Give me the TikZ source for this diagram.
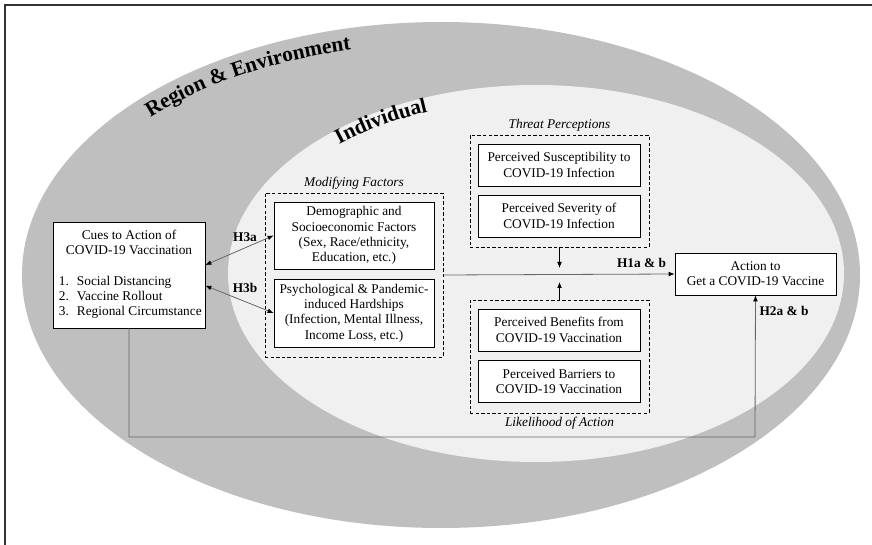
\documentclass[tikz,border=0pt]{standalone}
\usepackage{fontspec}
\setmainfont{Liberation Serif}
\usetikzlibrary{positioning,arrows.meta,decorations.text}

\begin{document}
\begin{tikzpicture}[x=0.75pt,y=-0.75pt,
            box/.style={draw, fill=white, line width=0.6pt, align=center, inner sep=0pt,
              font=\fontsize{10}{11.5}\selectfont},
            group/.style={draw, line width=0.6pt, dash pattern=on 2.6pt off 1.6pt, inner sep=0pt},
            caption/.style={font=\fontsize{10}{12}\selectfont\itshape, inner sep=1pt},
            hyp/.style={font=\fontsize{10}{12}\selectfont\bfseries, inner sep=0pt},
            link/.style={draw=black!60, line width=0.6pt, -{Latex[length=4.5pt,width=3.6pt,color=black]}},
            twoway/.style={draw=black!60, line width=0.6pt, {Latex[length=4.5pt,width=3.6pt,color=black]}-{Latex[length=4.5pt,width=3.6pt,color=black]}}
            ]
            \useasboundingbox (0,0) rectangle (872,545);
            % Layers
            \fill[black!25] (441,275) ellipse [x radius=419, y radius=253];
            \fill[black!6] (536,273.5) ellipse [x radius=308, y radius=188.5];
            \draw[black!80, line width=1.4pt] (5,545) -- (5,5) -- (872,5);
            \path[decorate, decoration={text along path, text align=left,
                text={|\fontsize{16}{18}\selectfont\bfseries|Region {\&} Environment}}]
              (150.4,117.4) arc[start angle=-137, end angle=-95, x radius=397, y radius=231];
            \path[decorate, decoration={text along path, text align=left,
                text={|\fontsize{16}{18}\selectfont\bfseries|Individual}}]
              (339.2,144.3) arc[start angle=-132, end angle=-100, x radius=294, y radius=174.5];

            % Cues
            \node[box, minimum width=114pt, minimum height=79.5pt] (cues) at (129,275)
              {Cues to Action of\\COVID-19 Vaccination\\[11.5pt]
               \begin{tabular}[t]{@{\hspace{2pt}}l@{\hspace{6pt}}l@{}}
                 1.&Social Distancing\\
                 2.&Vaccine Rollout\\
                 3.&Regional Circumstance
               \end{tabular}};

            % Modifying factors
            \node[group, minimum width=133.5pt, minimum height=123pt] (modfac) at (354,275) {};
            \node[caption, above=1.5pt of modfac] {Modifying Factors};
            \node[box, minimum width=120pt, minimum height=50.25pt] (demo) at (354,235.5)
              {Demographic and\\Socioeconomic Factors\\(Sex, Race/ethnicity,\\Education, etc.)};
            \node[box, minimum width=120pt, minimum height=51pt] (psych) at (354,313)
              {Psychological \& Pandemic-\\induced Hardships\\(Infection, Mental Illness,\\Income Loss, etc.)};

            % Threat perceptions
            \node[group, minimum width=134.25pt, minimum height=84pt] (threat) at (559.5,191) {};
            \node[caption, above=1.5pt of threat] {Threat Perceptions};
            \node[box, minimum width=121.5pt, minimum height=31.5pt] (susc) at (559,165)
              {Perceived Susceptibility to\\COVID-19 Infection};
            \node[box, minimum width=121.5pt, minimum height=31.5pt] (sev) at (559,216)
              {Perceived Severity of\\COVID-19 Infection};

            % Likelihood of action
            \node[group, minimum width=134.25pt, minimum height=84.75pt] (likeli) at (559.5,356.5) {};
            \node[caption, below=1.5pt of likeli] {Likelihood of Action};
            \node[box, minimum width=121.5pt, minimum height=31.5pt] (benef) at (559,330)
              {Perceived Benefits from\\COVID-19 Vaccination};
            \node[box, minimum width=121.5pt, minimum height=31.5pt] (barr) at (559,381.5)
              {Perceived Barriers to\\COVID-19 Vaccination};

            % Outcome
            \node[box, minimum width=120.75pt, minimum height=31.5pt] (action) at (755.5,274)
              {Action to\\Get a COVID-19 Vaccine};

            % Connectors
            \coordinate (tdown) at (559.5,268);
            \coordinate (lup) at (559.5,282);
            \coordinate (route) at (755,437);
            \draw[link] (modfac.east) -- (action.west);
            \draw[link, draw=black] (threat.south) -- (tdown);
            \draw[link, draw=black] (likeli.north) -- (lup);
            \draw[link] (cues.south) |- (route) -- (action.south);
            \draw[twoway] ([yshift=7.5pt]cues.east) -- (demo.west);
            \draw[twoway] ([yshift=-8pt]cues.east) -- (psych.west);

            % Hypotheses
            \node[hyp] (h1) at (641.5,263) {H1a \& b};
            \node[hyp] (h2) at (784,311) {H2a \& b};
            \node[hyp] (h3a) at (245,237) {H3a};
            \node[hyp] (h3b) at (245,288) {H3b};
          \end{tikzpicture}
\end{document}
